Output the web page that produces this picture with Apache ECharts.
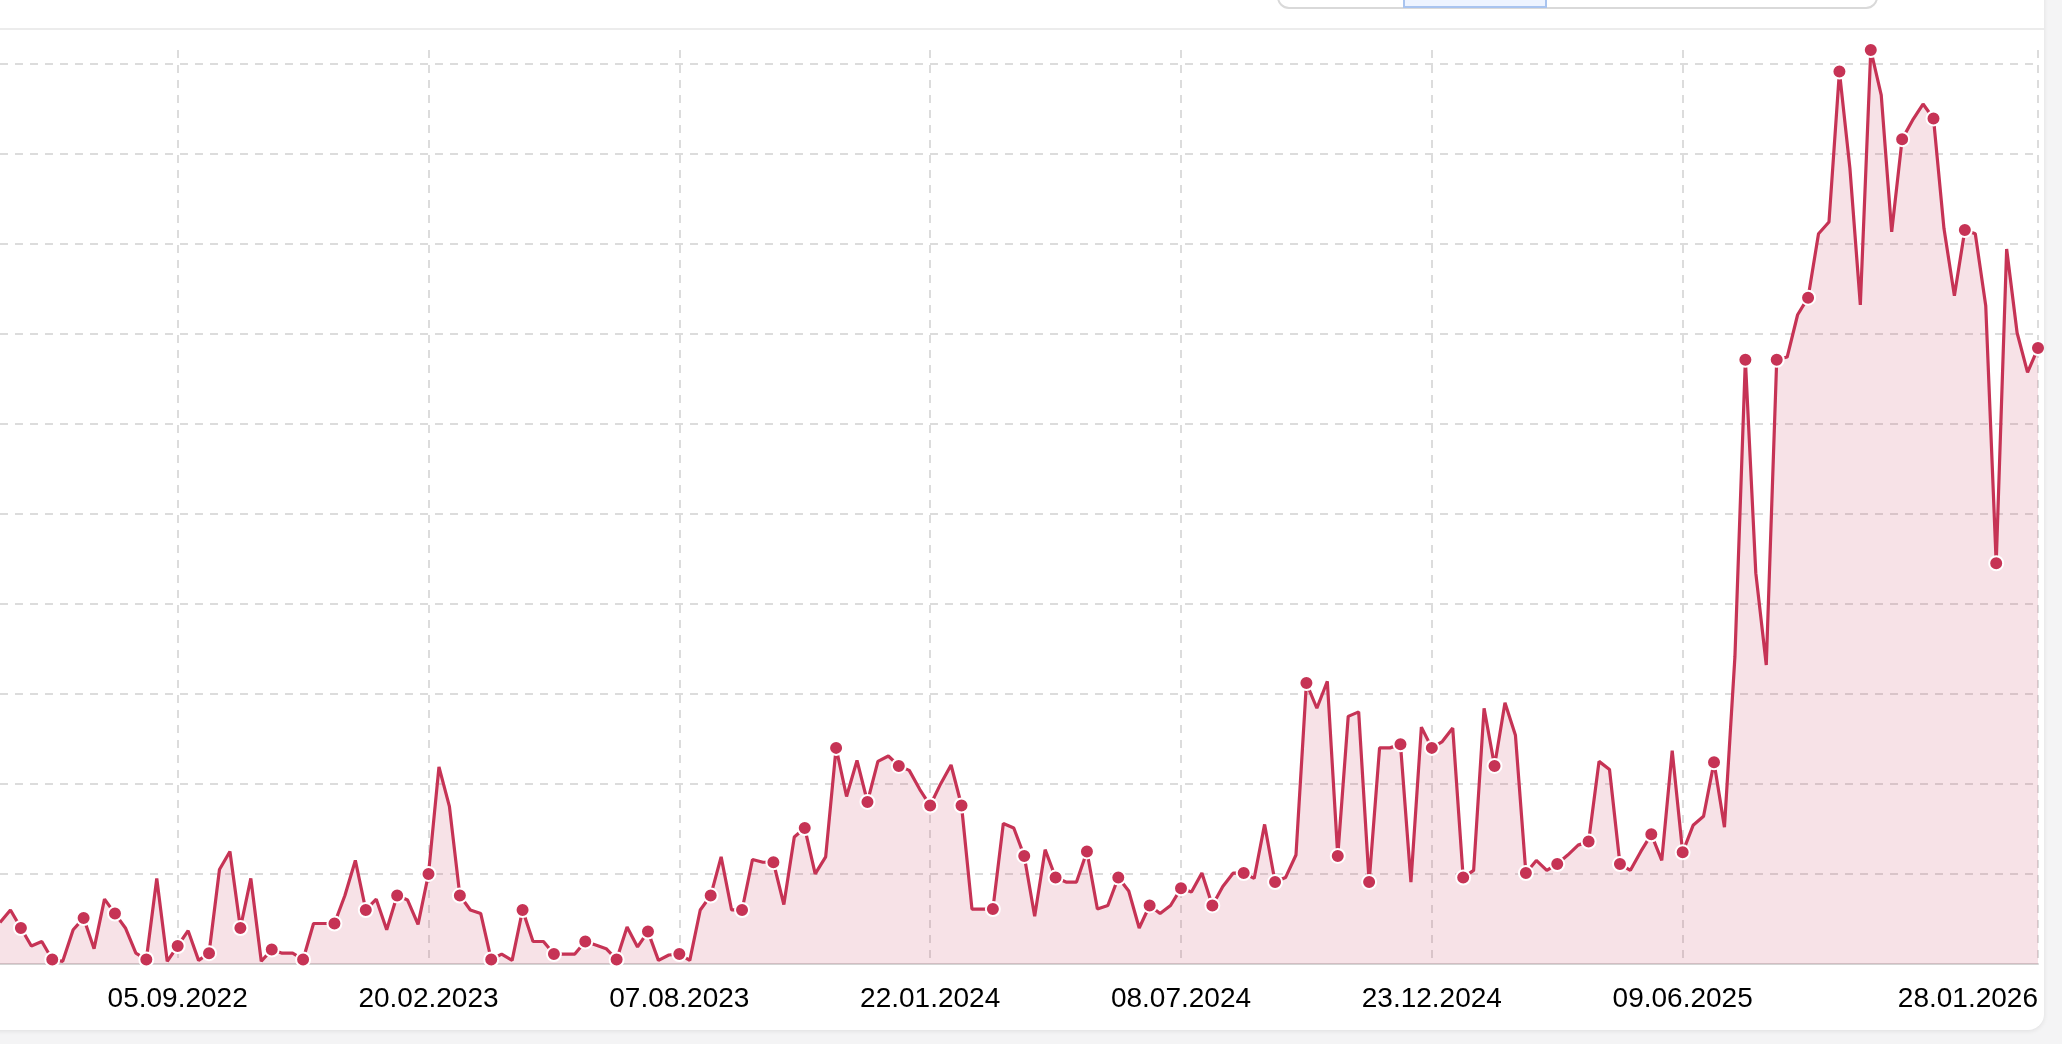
<!DOCTYPE html>
<html>
<head>
<meta charset="utf-8">
<script src="https://cdn.jsdelivr.net/npm/echarts/dist/echarts.min.js"></script>
<style>
  html, body { margin: 0; padding: 0; width: 2062px; height: 1044px; overflow: hidden; background: #f4f4f5; }
  #card { position: absolute; left: -30px; top: -30px; width: 2074px; height: 1060px; background: #fff;
          border-radius: 16px; box-shadow: 0 1px 5px rgba(0,0,0,0.09); }
  #divider { position: absolute; left: 0; top: 28px; width: 2044px; height: 2px; background: #ececec; }
  #seg { position: absolute; left: 1277px; top: -40px; width: 597px; height: 45px; border: 2px solid #d9d9d9;
         border-radius: 12px; background: #fff; box-sizing: content-box; }
  #segOn { position: absolute; left: 1403px; top: -40px; width: 140px; height: 44px; border: 2px solid #a9c4ef;
           background: #eef4ff; }
  #chart { position: absolute; left: 0; top: 0; width: 2044px; height: 1030px; }
</style>
</head>
<body>
<div id="card"></div>
<div id="divider"></div>
<div id="seg"></div>
<div id="segOn"></div>
<div id="chart"></div>
<script>
// Weekly dates (Mondays) plus the latest data point
const dates = [
  '09.05.2022','16.05.2022','23.05.2022','30.05.2022','06.06.2022','13.06.2022','20.06.2022','27.06.2022',
  '04.07.2022','11.07.2022','18.07.2022','25.07.2022','01.08.2022','08.08.2022','15.08.2022','22.08.2022','29.08.2022',
  '05.09.2022','12.09.2022','19.09.2022','26.09.2022','03.10.2022','10.10.2022','17.10.2022','24.10.2022','31.10.2022',
  '07.11.2022','14.11.2022','21.11.2022','28.11.2022','05.12.2022','12.12.2022','19.12.2022','26.12.2022',
  '02.01.2023','09.01.2023','16.01.2023','23.01.2023','30.01.2023','06.02.2023','13.02.2023','20.02.2023','27.02.2023',
  '06.03.2023','13.03.2023','20.03.2023','27.03.2023','03.04.2023','10.04.2023','17.04.2023','24.04.2023',
  '01.05.2023','08.05.2023','15.05.2023','22.05.2023','29.05.2023','05.06.2023','12.06.2023','19.06.2023','26.06.2023',
  '03.07.2023','10.07.2023','17.07.2023','24.07.2023','31.07.2023','07.08.2023','14.08.2023','21.08.2023','28.08.2023',
  '04.09.2023','11.09.2023','18.09.2023','25.09.2023','02.10.2023','09.10.2023','16.10.2023','23.10.2023','30.10.2023',
  '06.11.2023','13.11.2023','20.11.2023','27.11.2023','04.12.2023','11.12.2023','18.12.2023','25.12.2023',
  '01.01.2024','08.01.2024','15.01.2024','22.01.2024','29.01.2024','05.02.2024','12.02.2024','19.02.2024','26.02.2024',
  '04.03.2024','11.03.2024','18.03.2024','25.03.2024','01.04.2024','08.04.2024','15.04.2024','22.04.2024','29.04.2024',
  '06.05.2024','13.05.2024','20.05.2024','27.05.2024','03.06.2024','10.06.2024','17.06.2024','24.06.2024',
  '01.07.2024','08.07.2024','15.07.2024','22.07.2024','29.07.2024','05.08.2024','12.08.2024','19.08.2024','26.08.2024',
  '02.09.2024','09.09.2024','16.09.2024','23.09.2024','30.09.2024','07.10.2024','14.10.2024','21.10.2024','28.10.2024',
  '04.11.2024','11.11.2024','18.11.2024','25.11.2024','02.12.2024','09.12.2024','16.12.2024','23.12.2024','30.12.2024',
  '06.01.2025','13.01.2025','20.01.2025','27.01.2025','03.02.2025','10.02.2025','17.02.2025','24.02.2025',
  '03.03.2025','10.03.2025','17.03.2025','24.03.2025','31.03.2025','07.04.2025','14.04.2025','21.04.2025','28.04.2025',
  '05.05.2025','12.05.2025','19.05.2025','26.05.2025','02.06.2025','09.06.2025','16.06.2025','23.06.2025','30.06.2025',
  '07.07.2025','14.07.2025','21.07.2025','28.07.2025','04.08.2025','11.08.2025','18.08.2025','25.08.2025',
  '01.09.2025','08.09.2025','15.09.2025','22.09.2025','29.09.2025','06.10.2025','13.10.2025','20.10.2025','27.10.2025',
  '03.11.2025','10.11.2025','17.11.2025','24.11.2025','01.12.2025','08.12.2025','15.12.2025','22.12.2025','29.12.2025',
  '05.01.2026','12.01.2026','19.01.2026','26.01.2026','28.01.2026'
];

const values = [
  4.6, 6.0, 4.0, 2.0, 2.5, 0.5, 0.3, 3.8, 5.1, 1.7, 7.2, 5.6,
  4.0, 1.2, 0.5, 9.5, 0.3, 2.0, 3.7, 0.4, 1.2, 10.5, 12.5, 4.0,
  9.5, 0.3, 1.6, 1.2, 1.2, 0.5, 4.5, 4.5, 4.5, 7.6, 11.5, 6.0,
  7.2, 3.8, 7.6, 7.1, 4.4, 10.0, 21.9, 17.5, 7.6, 6.0, 5.6, 0.5,
  1.1, 0.4, 6.0, 2.5, 2.5, 1.1, 1.1, 1.1, 2.5, 2.1, 1.7, 0.5,
  4.1, 1.9, 3.6, 0.4, 1.0, 1.1, 0.4, 6.0, 7.6, 11.9, 6.0, 6.0,
  11.6, 11.3, 11.3, 6.6, 14.1, 15.1, 10.0, 11.9, 24.0, 18.6, 22.6, 18.0,
  22.5, 23.1, 22.0, 21.5, 19.4, 17.6, 20.0, 22.1, 17.6, 6.1, 6.1, 6.1,
  15.6, 15.1, 12.0, 5.3, 12.7, 9.6, 9.1, 9.1, 12.5, 6.1, 6.5, 9.6,
  8.1, 4.0, 6.5, 5.6, 6.5, 8.4, 8.0, 10.1, 6.5, 8.6, 10.1, 10.1,
  9.5, 15.5, 9.1, 9.6, 12.1, 31.2, 28.4, 31.4, 12.0, 27.5, 28.0, 9.1,
  24.0, 24.0, 24.4, 9.1, 26.3, 24.0, 24.7, 26.2, 9.6, 10.4, 28.4, 22.0,
  29.0, 25.4, 10.1, 11.5, 10.4, 11.1, 12.1, 13.2, 13.6, 22.5, 21.6, 11.1,
  10.4, 12.5, 14.4, 11.5, 23.7, 12.4, 15.4, 16.4, 22.4, 15.2, 34.1, 67.1,
  43.4, 33.2, 67.1, 67.4, 72.1, 74.0, 81.1, 82.4, 99.1, 88.4, 73.2, 101.5,
  96.5, 81.3, 91.6, 93.7, 95.5, 93.9, 81.7, 74.2, 81.5, 81.1, 73.1, 44.5,
  79.4, 70.1, 65.7, 68.4
];

const tickLabels = ['05.09.2022', '20.02.2023', '07.08.2023', '22.01.2024', '08.07.2024', '23.12.2024', '09.06.2025', '28.01.2026'];

const LINE = '#c63355';
const tickSet = new Set(tickLabels);
const lastIdx = values.length - 1;
const seriesData = values.map((v, i) => {
  const dot = (i % 3 === 2 && i < lastIdx - 1) || i === lastIdx;
  return dot ? { value: v } : { value: v, symbol: 'none' };
});

const chart = echarts.init(document.getElementById('chart'), null, { renderer: 'canvas' });
chart.setOption({
  animation: false,
  grid: { left: 0, right: 6, top: 50, bottom: 66, containLabel: false },
  xAxis: {
    type: 'category',
    data: dates,
    boundaryGap: false,
    axisLine: { show: true, lineStyle: { color: '#d4d4d4', width: 2 } },
    axisTick: { show: false },
    axisLabel: {
      interval: (i, v) => tickSet.has(v),
      color: '#000',
      fontSize: 28,
      fontFamily: 'Liberation Sans, Arial, sans-serif',
      margin: 21,
      showMaxLabel: true,
      alignMaxLabel: 'right'
    },
    splitLine: {
      show: true,
      interval: (i, v) => tickSet.has(v),
      lineStyle: { color: '#dcdcdc', width: 2, type: [8, 7] }
    }
  },
  yAxis: {
    type: 'value',
    min: 0,
    max: 'dataMax',
    interval: 10,
    axisLabel: { show: false },
    axisLine: { show: false },
    axisTick: { show: false },
    splitLine: { show: true, showMaxLine: false, showMinLine: false, lineStyle: { color: '#dcdcdc', width: 2, type: [8, 7] } }
  },
  series: [{
    type: 'line',
    data: seriesData,
    showAllSymbol: true,
    symbol: 'circle',
    symbolSize: 14,
    clip: false,
    lineStyle: { color: LINE, width: 3.2 },
    itemStyle: { color: LINE, borderColor: '#ffffff', borderWidth: 2 },
    areaStyle: { color: 'rgba(198,51,85,0.2)' },
    emphasis: { disabled: true }
  }]
});
</script>
</body>
</html>
